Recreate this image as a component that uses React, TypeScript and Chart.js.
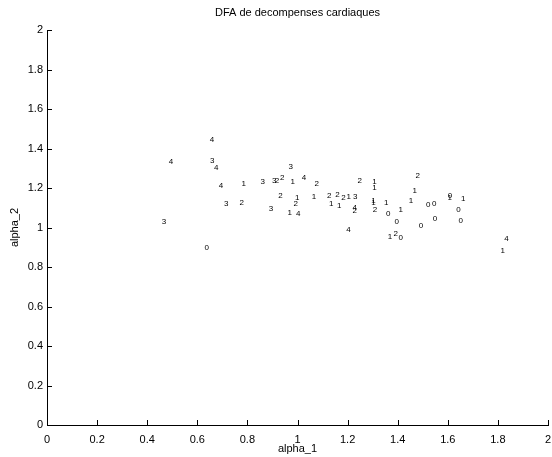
import React, { useEffect, useRef } from "react";
import { Chart, registerables } from "chart.js";

Chart.register(...registerables);

const TITLE = "DFA de decompenses cardiaques";
const X_LABEL = "alpha_1";
const Y_LABEL = "alpha_2";

const xTickValues = [0, 0.2, 0.4, 0.6, 0.8, 1, 1.2, 1.4, 1.6, 1.8, 2];
const yTickValues = [0, 0.2, 0.4, 0.6, 0.8, 1, 1.2, 1.4, 1.6, 1.8, 2];

const alpha1 = [
  0.495, 0.467, 0.659, 0.66, 0.676, 0.695, 0.785, 0.715, 0.777, 0.638,
  0.861, 0.907, 0.918, 0.939, 0.932, 0.894, 0.973, 0.981, 1.026, 1.077,
  0.999, 0.993, 0.969, 1.003, 1.066, 1.127, 1.16, 1.184, 1.204, 1.23,
  1.135, 1.167, 1.228, 1.228, 1.248, 1.307, 1.307, 1.303, 1.303, 1.309,
  1.354, 1.362, 1.412, 1.396, 1.203, 1.369, 1.392, 1.412, 1.453, 1.48,
  1.468, 1.522, 1.546, 1.493, 1.549, 1.609, 1.608, 1.662, 1.643, 1.652,
  1.834, 1.819,
];

const alpha2 = [
  1.334, 1.027, 1.442, 1.336, 1.3, 1.209, 1.219, 1.12, 1.125, 0.895,
  1.229, 1.236, 1.236, 1.252, 1.158, 1.095, 1.305, 1.229, 1.252, 1.219,
  1.15, 1.12, 1.074, 1.067, 1.157, 1.161, 1.164, 1.15, 1.153, 1.153,
  1.12, 1.108, 1.098, 1.086, 1.236, 1.233, 1.199, 1.133, 1.123, 1.091,
  1.125, 1.069, 1.09, 1.027, 0.988, 0.951, 0.968, 0.948, 1.133, 1.26,
  1.186, 1.116, 1.118, 1.011, 1.044, 1.162, 1.149, 1.147, 1.091, 1.032,
  0.941, 0.882,
];

const classLabels = [
  "4", "3", "4", "3", "4", "4", "1", "3", "2", "0",
  "3", "3", "2", "2", "2", "3", "3", "1", "4", "2",
  "1", "2", "1", "4", "1", "2", "2", "2", "1", "3",
  "1", "1", "4", "2", "2", "1", "1", "1", "1", "2",
  "1", "0", "1", "0", "4", "1", "2", "0", "1", "2",
  "1", "0", "0", "0", "0", "0", "1", "1", "0", "0",
  "4", "1",
];

const FONT = "'Liberation Sans', Arial, Helvetica, sans-serif";

const textPlugin = {
  id: "matlabText",
  afterDatasetsDraw(chart: any) {
    const ctx = chart.ctx;
    const meta = chart.getDatasetMeta(0);
    ctx.save();
    ctx.fillStyle = "#000";
    ctx.font = `8px ${FONT}`;
    ctx.textAlign = "center";
    ctx.textBaseline = "middle";
    meta.data.forEach((el: any, i: number) => {
      ctx.fillText(classLabels[i], el.x, el.y);
    });
    ctx.restore();
  },
  afterDraw(chart: any) {
    const ctx = chart.ctx;
    const { left, right, top, bottom } = chart.chartArea;
    const xs = chart.scales.x;
    const ys = chart.scales.y;
    ctx.save();
    ctx.strokeStyle = "#000";
    ctx.lineWidth = 1;
    ctx.beginPath();
    xTickValues.forEach((v) => {
      const px = Math.round(xs.getPixelForValue(v)) + 0.5;
      ctx.moveTo(px, bottom);
      ctx.lineTo(px, bottom - 5);
    });
    yTickValues.forEach((v) => {
      const py = Math.round(ys.getPixelForValue(v)) + 0.5;
      ctx.moveTo(left, py);
      ctx.lineTo(left + 5, py);
    });
    ctx.stroke();
    ctx.fillStyle = "#000";
    ctx.font = `11px ${FONT}`;
    ctx.textAlign = "right";
    ctx.textBaseline = "middle";
    yTickValues.forEach((v) => {
      ctx.fillText(String(v), left - 4, ys.getPixelForValue(v));
    });
    ctx.textAlign = "center";
    const cx = (left + right) / 2;
    ctx.fillText(TITLE, cx, 13);
    ctx.fillText(X_LABEL, cx, 449);
    ctx.translate(15, (top + bottom) / 2);
    ctx.rotate(-Math.PI / 2);
    ctx.fillText(Y_LABEL, 0, 0);
    ctx.restore();
  },
};

export default function App() {
  const ref = useRef<HTMLCanvasElement | null>(null);
  useEffect(() => {
    if (!ref.current) return;
    const chart = new Chart(ref.current, {
      type: "scatter",
      data: {
        datasets: [
          {
            data: alpha1.map((x, i) => ({ x, y: alpha2[i] })),
            pointRadius: 0,
            pointHoverRadius: 0,
            showLine: false,
          },
        ],
      },
      options: {
        responsive: false,
        animation: false,
        events: [],
        layout: { padding: { top: 30, right: 4, left: 0, bottom: 0 } },
        plugins: {
          legend: { display: false },
          tooltip: { enabled: false },
          title: { display: false },
        },
        scales: {
          x: {
            type: "linear",
            min: 0,
            max: 2,
            afterFit: (s: any) => {
              s.height = 32;
            },
            afterBuildTicks: (s: any) => {
              s.ticks = xTickValues.map((v) => ({ value: v }));
            },
            grid: { display: false },
            border: { display: true, color: "#000", width: 1 },
            ticks: {
              color: "#000",
              font: { family: FONT, size: 11 },
              padding: 0,
              maxRotation: 0,
              autoSkip: false,
              callback: (v: any) => String(Number(v)),
            },
          },
          y: {
            type: "linear",
            min: 0,
            max: 2,
            afterFit: (s: any) => {
              s.width = 47;
            },
            afterBuildTicks: (s: any) => {
              s.ticks = yTickValues.map((v) => ({ value: v }));
            },
            grid: { display: false },
            border: { display: true, color: "#000", width: 1 },
            ticks: { display: false },
          },
        },
      },
      plugins: [textPlugin],
    });
    return () => chart.destroy();
  }, []);
  return (
    <div style={{ position: "absolute", left: 0, top: 0, width: 552, height: 457, background: "#fff" }}>
      <canvas ref={ref} width={552} height={457} style={{ display: "block" }} />
    </div>
  );
}
